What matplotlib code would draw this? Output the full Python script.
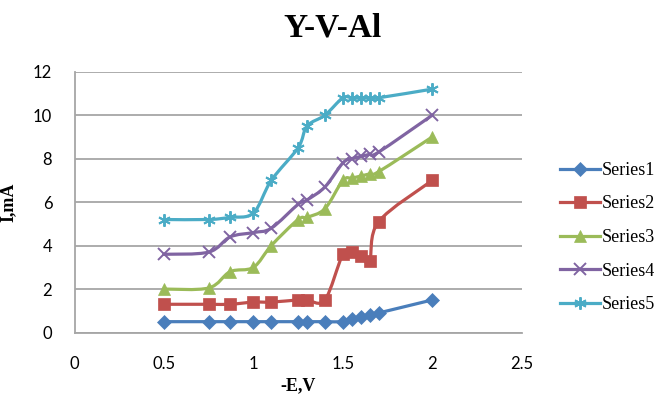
import numpy as np
import matplotlib
matplotlib.use("Agg")
import matplotlib.pyplot as plt
from matplotlib.path import Path
from matplotlib.patches import PathPatch
from matplotlib.lines import Line2D

# Applied potential (-E, V) and measured current (I, mA)
potential = [0.5, 0.75, 0.87, 1.0, 1.1, 1.25, 1.3, 1.4, 1.5, 1.55, 1.6, 1.65, 1.7, 2.0]
series1 = [0.5, 0.5, 0.5, 0.5, 0.5, 0.5, 0.5, 0.5, 0.5, 0.6, 0.7, 0.8, 0.9, 1.5]
series2 = [1.3, 1.3, 1.3, 1.4, 1.4, 1.5, 1.5, 1.5, 3.6, 3.7, 3.5, 3.3, 5.1, 7.0]
series3 = [2.0, 2.05, 2.8, 3.0, 4.0, 5.2, 5.3, 5.7, 7.0, 7.1, 7.2, 7.3, 7.4, 9.0]
series4 = [3.6, 3.7, 4.4, 4.6, 4.8, 5.9, 6.1, 6.7, 7.8, 8.0, 8.1, 8.2, 8.3, 10.0]
series5 = [5.2, 5.2, 5.3, 5.5, 7.0, 8.5, 9.5, 10.0, 10.8, 10.8, 10.8, 10.8, 10.8, 11.2]

series_names = ["Series1", "Series2", "Series3", "Series4", "Series5"]
x_ticks = [0, 0.5, 1, 1.5, 2, 2.5]
y_ticks = [0, 2, 4, 6, 8, 10, 12]

colors = ["#4A7EBB", "#C0504D", "#9BBB59", "#8064A2", "#4BACC6"]
markers = ["D", "s", "^", "x", (6, 2, 0)]
msizes = [7, 8, 8.5, 8, 9]

plt.rcParams["font.family"] = ["Lato", "DejaVu Sans"]
serif = ["Liberation Serif", "DejaVu Serif"]

fig = plt.figure(figsize=(6.64, 3.94), dpi=100)
ax = fig.add_axes([0.1122, 0.156, 0.6735, 0.662])


def smooth_path(xs, ys):
    """Cubic Bezier path through the points (Catmull-Rom style smoothing)."""
    pts = np.column_stack([xs, ys]).astype(float)
    n = len(pts)
    verts = [pts[0]]
    codes = [Path.MOVETO]
    for i in range(n - 1):
        p0 = pts[i - 1] if i > 0 else pts[i]
        p1 = pts[i]
        p2 = pts[i + 1]
        p3 = pts[i + 2] if i + 2 < n else pts[i + 1]
        c1 = p1 + (p2 - p0) / 6.0
        c2 = p2 - (p3 - p1) / 6.0
        verts += [c1, c2, p2]
        codes += [Path.CURVE4] * 3
    return Path(verts, codes)


all_series = [series1, series2, series3, series4, series5]
handles = []
for ys, name, c, m, ms in zip(all_series, series_names, colors, markers, msizes):
    patch = PathPatch(smooth_path(potential, ys), facecolor="none", edgecolor=c,
                      lw=2.3, capstyle="round", joinstyle="round", zorder=3)
    ax.add_patch(patch)
    mew = 1.4 if m in ("x",) or isinstance(m, tuple) else 0.5
    ax.plot(potential, ys, linestyle="none", marker=m, markersize=ms,
            color=c, markeredgecolor=c, markeredgewidth=mew, zorder=4)
    handles.append(Line2D([], [], color=c, lw=2.3, marker=m, markersize=ms,
                          markeredgecolor=c, markeredgewidth=mew, label=name))

ax.set_xlim(0, 2.5)
ax.set_ylim(0, 12)
ax.set_xticks(x_ticks)
ax.set_xticklabels([f"{t:g}" for t in x_ticks])
ax.set_yticks(y_ticks)
ax.tick_params(axis="both", length=0, labelsize=12, colors="#000000")
ax.tick_params(axis="x", pad=17)
ax.tick_params(axis="y", pad=16)

ax.grid(axis="y", color="#A6A6A6", lw=1.3)
ax.set_axisbelow(True)
for side in ("top", "right"):
    ax.spines[side].set_visible(False)
for side in ("left", "bottom"):
    ax.spines[side].set_color("#A6A6A6")
    ax.spines[side].set_linewidth(1.3)

fig.text(0.5, 0.928, "Y-V-Al", ha="center", va="center", fontsize=24,
         fontweight="bold", family=serif)
ax.set_xlabel("-E,V", fontsize=13, fontweight="bold", family=serif, labelpad=4)
ax.set_ylabel("I,mA", fontsize=13, fontweight="bold", family=serif, labelpad=12)

fig.legend(handles=handles, loc="center left", bbox_to_anchor=(0.844, 0.397),
           frameon=False, prop={"family": serif, "size": 13}, handlelength=2.2,
           handletextpad=0.1, labelspacing=0.92, borderpad=0, borderaxespad=0,
           numpoints=1)

fig.savefig("out.png", dpi=100)
